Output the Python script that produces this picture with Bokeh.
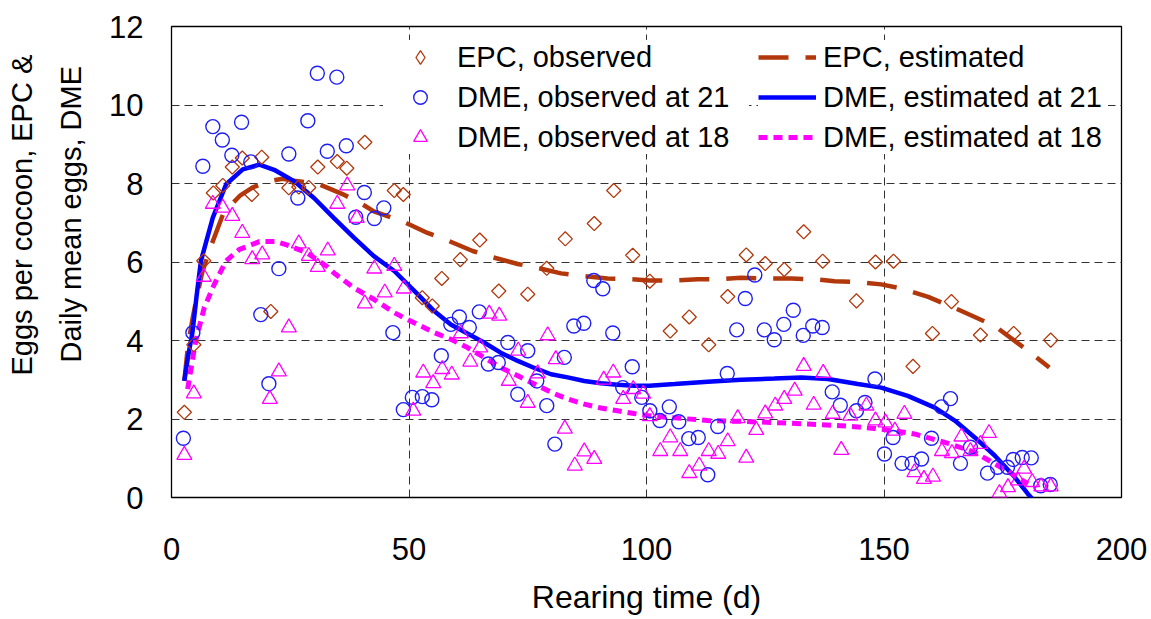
import numpy as np
from bokeh.plotting import figure
from bokeh.models import Range1d, FixedTicker, Legend, LegendItem, Title
from bokeh.embed import file_html
from bokeh.resources import INLINE

# ---------------- data ----------------
epc_obs_x = [2.7, 4.7, 6.8, 8.8, 10.8, 12.8, 14.9, 16.9, 19.0, 20.9, 24.7, 26.8, 28.9, 30.8,
             34.9, 36.9, 40.7, 46.9, 48.8, 52.8, 54.9, 56.9, 60.8, 64.9, 68.9, 75.0, 79.0,
             82.9, 89.0, 93.1, 97.1, 100.7, 105.0, 109.0, 113.1, 117.1, 121.0, 125.0, 129.0,
             133.1, 137.1, 144.2, 148.2, 152.0, 156.1, 160.2, 164.2, 170.3, 177.3, 185.1]
epc_obs_y = [2.17, 3.89, 6.03, 7.76, 7.95, 8.42, 8.65, 7.72, 8.67, 4.74, 7.89, 7.91, 7.90, 8.42,
             8.56, 8.39, 9.05, 7.82, 7.72, 5.09, 4.88, 5.58, 6.06, 6.56, 5.26, 5.18, 5.84,
             6.59, 6.98, 7.82, 6.17, 5.51, 4.24, 4.60, 3.89, 5.12, 6.18, 5.96, 5.81,
             6.77, 6.02, 5.01, 6.00, 6.02, 3.34, 4.18, 4.99, 4.14, 4.18, 4.01]

dme21_obs_x = [2.5, 4.5, 6.6, 8.7, 10.7, 12.7, 14.75, 16.7, 18.8, 20.5, 22.6, 24.7, 26.6, 28.7,
               30.7, 32.8, 34.8, 36.8, 38.8, 40.6, 42.7, 44.7, 46.6, 48.8, 50.7, 52.8, 54.8,
               56.8, 58.8, 60.6, 62.7, 64.8, 66.7, 68.8, 70.8, 72.9, 75.0, 76.9, 79.0, 80.7,
               82.7, 84.7, 86.8, 88.9, 90.8, 92.9, 95.0, 97.0, 99.0, 100.7, 102.8, 104.8,
               106.8, 108.9, 110.9, 112.9, 115.0, 117.0, 119.0, 120.8, 122.8, 124.8, 126.9,
               128.9, 130.9, 133.0, 135.0, 137.0, 139.1, 140.8, 144.2, 146.0, 148.1, 150.1,
               151.9, 153.8, 155.9, 157.9, 160.0, 162.1, 164.0, 166.1, 168.2, 171.8, 173.9,
               176.0, 177.2, 179.1, 181.0, 183.0, 185.0]
dme21_obs_y = [1.51, 4.20, 8.44, 9.45, 9.11, 8.72, 9.56, 8.55, 4.66, 2.90, 5.83, 8.75, 7.63, 9.60,
               10.81, 8.82, 10.71, 8.96, 7.14, 7.77, 7.11, 7.38, 4.20, 2.24, 2.55, 2.57, 2.49,
               3.61, 4.41, 4.60, 4.33, 4.73, 3.40, 3.44, 3.95, 2.63, 3.74, 2.97, 2.34, 1.36,
               3.57, 4.37, 4.44, 5.53, 5.32, 4.19, 2.80, 3.33, 2.55, 2.21, 1.96, 2.31,
               1.93, 1.50, 1.53, 0.58, 1.81, 3.16, 4.27, 5.07, 5.67, 4.27, 4.02,
               4.41, 4.77, 4.13, 4.37, 4.33, 2.69, 2.35, 2.21, 2.42, 3.02, 1.11,
               1.53, 0.87, 0.87, 0.98, 1.51, 2.31, 2.52, 0.87, 1.28, 0.62, 0.77,
               0.77, 0.97, 1.02, 1.01, 0.30, 0.33]

dme18_obs_x = [2.7, 4.7, 6.8, 8.7, 10.8, 12.8, 14.9, 17.0, 19.1, 20.7, 22.6, 24.7, 26.8, 28.9,
               30.8, 32.9, 34.9, 37.0, 39.0, 40.7, 42.7, 44.9, 46.9, 48.9, 50.9, 53.0, 55.1,
               57.0, 59.0, 60.9, 62.9, 65.0, 66.9, 69.0, 71.0, 73.0, 75.0, 77.1, 79.2, 80.9,
               82.8, 84.9, 86.9, 89.0, 91.0, 93.0, 95.1, 97.2, 99.3, 100.7, 102.9, 105.0,
               107.1, 109.0, 111.1, 113.1, 115.1, 117.1, 119.2, 121.0, 123.1, 125.0, 127.1,
               129.0, 131.2, 133.1, 135.2, 137.2, 139.2, 141.0, 142.9, 146.3, 148.2, 150.3,
               152.3, 154.3, 156.4, 158.4, 160.3, 162.2, 164.3, 166.3, 168.2, 170.3, 172.1,
               174.3, 176.1, 178.2, 179.5, 181.2, 183.1, 185.1]
dme18_obs_y = [1.08, 2.65, 5.62, 7.48, 7.38, 7.17, 6.74, 6.07, 6.19, 2.51, 3.21, 4.33, 6.47, 6.15,
               5.87, 6.29, 7.48, 7.95, 7.12, 4.94, 5.83, 5.22, 5.90, 5.32, 2.21, 3.18, 2.91,
               3.27, 3.13, 4.18, 3.46, 3.82, 4.68, 4.63, 2.97, 3.74, 2.41, 3.16, 4.13, 3.52,
               1.75, 0.81, 1.17, 0.98, 3.00, 3.18, 2.51, 2.76, 2.64, 2.07, 1.18, 1.53,
               1.18, 0.62, 0.81, 1.18, 1.11, 1.43, 2.02, 1.01, 1.72, 2.14, 2.34,
               2.51, 2.72, 3.35, 2.36, 3.17, 2.13, 1.21, 2.08, 2.34, 1.96, 1.91,
               1.70, 2.13, 0.64, 0.47, 0.53, 1.18, 1.13, 1.55, 1.18, 1.36, 1.64,
               0.11, 0.26, 0.43, 0.73, 0.39, 0.28, 0.28]

epc_est_x = [2.7, 3.5, 4.5, 5.5, 6.5, 8.3, 10.8, 12.5, 14.5, 17.1, 20.6, 23.4, 25.8, 30.7, 36.0,
             39.8, 42.6, 48.6, 53.9, 58.1, 63.4, 67.6, 72.9, 77.1, 82.0, 86.9, 91.8, 96.7,
             100.6, 105.9, 110.8, 115.7, 119.9, 125.5, 130.5, 135.4, 139.6, 144.5, 149.4,
             153.6, 159.3, 165.6, 173.3, 180.3, 184.8]
epc_est_y = [2.97, 3.9, 4.6, 5.2, 5.75, 6.4, 7.2, 7.45, 7.7, 7.9, 8.06, 8.12, 8.07, 8.0, 7.73,
             7.5, 7.29, 7.04, 6.74, 6.55, 6.28, 6.12, 5.95, 5.85, 5.71, 5.64, 5.58, 5.56,
             5.53, 5.53, 5.56, 5.56, 5.6, 5.58, 5.58, 5.56, 5.51, 5.49, 5.43,
             5.33, 5.11, 4.79, 4.37, 3.74, 3.31]

dme21_est_x = [2.7, 3.5, 4.4, 5.3, 6.2, 8.7, 11.5, 15.0, 18.5, 21.6, 25.8, 30.0, 34.2, 38.4,
               42.6, 46.9, 51.8, 55.3, 58.8, 62.3, 65.8, 69.3, 72.9, 76.4, 79.9, 83.4, 86.9,
               90.4, 93.9, 97.4, 100.6, 105.9, 112.9, 119.9, 126.9, 132.6, 138.2, 144.5,
               149.4, 155.0, 160.7, 164.9, 169.1, 173.3, 177.5, 180.3, 182.1]
dme21_est_y = [2.97, 3.6, 4.2, 5.15, 6.03, 7.13, 7.98, 8.36, 8.48, 8.35, 8.06, 7.63, 7.12, 6.62,
               6.15, 5.77, 5.18, 4.75, 4.41, 4.18, 3.95, 3.69, 3.48, 3.30, 3.14, 3.06, 2.97,
               2.91, 2.87, 2.85, 2.85, 2.89, 2.95, 3.00, 3.03, 3.06, 3.02, 2.89,
               2.80, 2.59, 2.29, 1.96, 1.53, 1.07, 0.52, 0.09, -0.15]

dme18_est_x = [3.4, 4.4, 5.1, 6.9, 9.0, 11.5, 14.3, 18.5, 22.0, 24.4, 28.6, 30.7, 32.8, 34.2,
               38.4, 42.6, 46.9, 48.3, 51.8, 55.3, 58.8, 62.3, 65.8, 69.3, 72.9, 76.4, 79.9,
               83.4, 86.9, 90.4, 93.9, 97.4, 100.6, 105.9, 112.9, 119.9, 126.9, 133.9, 140.9,
               148.0, 152.0, 156.4, 163.5, 169.1, 173.3, 177.5, 180.3]
dme18_est_y = [2.76, 3.5, 3.99, 4.84, 5.43, 6.03, 6.32, 6.52, 6.52, 6.43, 6.23, 6.05, 5.88, 5.72,
               5.34, 5.05, 4.71, 4.62, 4.41, 4.20, 4.03, 3.82, 3.57, 3.31, 3.10, 2.89, 2.68,
               2.51, 2.38, 2.28, 2.21, 2.14, 2.08, 2.03, 1.96, 1.94, 1.91, 1.87, 1.83,
               1.76, 1.70, 1.62, 1.38, 1.15, 0.86, 0.56, 0.35]

x_ticks = [0, 50, 100, 150, 200]
y_ticks = [0, 2, 4, 6, 8, 10, 12]

BROWN = "#B2380C"
BLUE = "#0000FF"
CIRC = "#1E1EF5"
MAG = "#FF00FF"
FONT = "Liberation Sans"

p = figure(width=1151, height=619, output_backend="svg", toolbar_location=None,
           x_range=Range1d(0, 200), y_range=Range1d(0, 12),
           min_border_left=171, min_border_right=30, min_border_top=26, min_border_bottom=122)
p.title.visible = False
p.background_fill_color = "white"
p.border_fill_color = "white"
p.outline_line_color = "black"
p.outline_line_width = 1.3

# axes
p.xaxis.ticker = FixedTicker(ticks=x_ticks)
p.yaxis.ticker = FixedTicker(ticks=y_ticks)
for ax in (p.xaxis[0], p.yaxis[0]):
    ax.axis_line_color = None
    ax.major_tick_in = 0
    ax.major_tick_out = 0
    ax.minor_tick_line_color = None
    ax.major_label_text_font = FONT
    ax.major_label_text_font_size = "31px"
    ax.major_label_text_color = "black"
p.yaxis.major_label_standoff = 28
p.xaxis.major_label_standoff = 40
p.xaxis.axis_label = "Rearing time (d)"
p.xaxis.axis_label_text_font = FONT
p.xaxis.axis_label_text_font_size = "32px"
p.xaxis.axis_label_text_font_style = "normal"
p.xaxis.axis_label_text_color = "black"
p.xaxis.axis_label_standoff = 16

# y axis label as two left titles (inner line first)
t2 = Title(text="Daily mean eggs, DME", align="left", offset=135, standoff=39,
           text_font=FONT, text_font_size="29px", text_font_style="normal", text_color="black")
t1 = Title(text="Eggs per cocoon,  EPC &", align="left", offset=122, standoff=-8,
           text_font=FONT, text_font_size="29px", text_font_style="normal", text_color="black")
p.add_layout(t2, "left")
p.add_layout(t1, "left")

# grid
p.xgrid.ticker = FixedTicker(ticks=[50, 100, 150])
p.ygrid.ticker = FixedTicker(ticks=[2, 4, 6, 8, 10])
for g in (p.xgrid[0], p.ygrid[0]):
    g.grid_line_color = "#333333"
    g.grid_line_dash = "8 5"
    g.grid_line_width = 1

# lines
r_epc_est = p.line(epc_est_x, epc_est_y, line_color=BROWN, line_width=4.5, line_dash="30 17")
r_d21_est = p.line(dme21_est_x, dme21_est_y, line_color=BLUE, line_width=4.5)
r_d18_est = p.line(dme18_est_x, dme18_est_y, line_color=MAG, line_width=5, line_dash="9 6")

# markers
r_epc_obs = p.scatter(epc_obs_x, epc_obs_y, marker="square", angle=np.pi / 4, size=10,
                      fill_color=None, line_color=BROWN, line_width=1.3)
r_d21_obs = p.scatter(dme21_obs_x, dme21_obs_y, marker="circle", size=14,
                      fill_color=None, line_color=CIRC, line_width=1.4)
r_d18_obs = p.scatter(dme18_obs_x, dme18_obs_y, marker="triangle", size=15,
                      fill_color=None, line_color=MAG, line_width=1.3)
# legend swatch for the diamond series: legend glyphs ignore marker angle, so this
# zero-size diamond renderer (invisible in the plot) supplies the legend symbol
r_epc_key = p.scatter(epc_obs_x, epc_obs_y, marker="diamond", size=0,
                      fill_color=None, line_color=BROWN, line_width=1.3)

def style_legend(lg):
    lg.label_text_font = FONT
    lg.label_text_font_size = "29px"
    lg.label_text_color = "black"
    lg.glyph_height = 34
    lg.label_height = 34
    lg.spacing = 6
    lg.padding = 4
    lg.margin = 0
    lg.border_line_color = None
    lg.background_fill_color = "white"
    lg.background_fill_alpha = 1.0

leg1 = Legend(items=[LegendItem(label="EPC, observed", renderers=[r_epc_key]),
                     LegendItem(label="DME, observed at 21", renderers=[r_d21_obs]),
                     LegendItem(label="DME, observed at 18", renderers=[r_d18_obs])],
              location=(212, 343))
style_legend(leg1)
leg1.glyph_width = 74
leg1.label_standoff = 0
leg1.label_width = 292

leg2 = Legend(items=[LegendItem(label="EPC, estimated", renderers=[r_epc_est]),
                     LegendItem(label="DME, estimated at 21", renderers=[r_d21_est]),
                     LegendItem(label="DME, estimated at 18", renderers=[r_d18_est])],
              location=(587, 343))
style_legend(leg2)
leg2.glyph_width = 58
leg2.label_standoff = 7
leg2.label_width = 285

p.add_layout(leg1, "center")
p.add_layout(leg2, "center")

open("out.html", "w").write(file_html(p, INLINE))
